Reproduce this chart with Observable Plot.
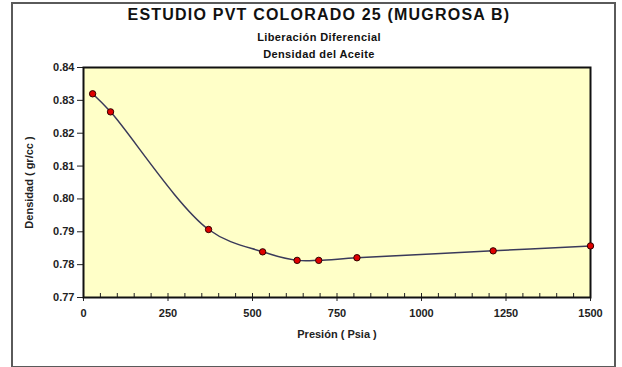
<!DOCTYPE html>
<html>
<head>
<meta charset="utf-8">
<script src="https://cdn.jsdelivr.net/npm/d3@7"></script>
<script src="https://cdn.jsdelivr.net/npm/@observablehq/plot@0.6"></script>
<style>
  html, body { margin: 0; padding: 0; background: #fff; }
  #wrap { position: relative; width: 622px; height: 367px; overflow: hidden; font-family: "Liberation Sans", Arial, sans-serif; }
  #border { position: absolute; left: 11px; top: 2px; width: 605px; height: 366px; border: 2px solid #5a5a5a; box-sizing: border-box; }
  .t { position: absolute; left: 0; width: 638px; text-align: center; font-weight: bold; color: #111; }
  #chart { position: absolute; left: 0; top: 0; }
</style>
</head>
<body>
<div id="wrap">
  <div id="border"></div>
  <div class="t" style="top:6px;font-size:16px;letter-spacing:1.2px;">ESTUDIO PVT COLORADO 25 (MUGROSA B)</div>
  <div class="t" style="top:31px;font-size:11px;letter-spacing:0.4px;">Liberación Diferencial</div>
  <div class="t" style="top:48px;font-size:11px;letter-spacing:0.4px;">Densidad del Aceite</div>
  <div id="chart"></div>
</div>
<script>
const pressure = [27, 80, 370, 530, 632, 696, 809, 1212, 1500];
const density  = [0.832, 0.8265, 0.7907, 0.7839, 0.7813, 0.7813, 0.7821, 0.7842, 0.7857];
const xTicks = [0, 250, 500, 750, 1000, 1250, 1500];
const xMinor = d3.range(0, 1501, 50);
const yTicks = [0.77, 0.78, 0.79, 0.80, 0.81, 0.82, 0.83, 0.84];

const data = pressure.map((p, i) => ({p, d: density[i]}));

const chart = Plot.plot({
  width: 622,
  height: 367,
  marginLeft: 83,
  marginRight: 32,
  marginTop: 67,
  marginBottom: 70,
  style: {fontFamily: "'Liberation Sans', Arial, sans-serif", fontWeight: "bold", fontSize: "11px", color: "#222", background: "transparent"},
  x: {domain: [0, 1500]},
  y: {domain: [0.77, 0.84]},
  marks: [
    Plot.frame({fill: "#FFFFC8", stroke: null}),
    Plot.axisX(xMinor, {tickSize: -4, tickFormat: () => "", stroke: "#222", label: null}),
    Plot.axisX(xTicks, {tickSize: 4, tickPadding: 8, tickFormat: d => String(d), stroke: "#222", fill: "#222", fontSize: 11, fontWeight: "bold", label: "Presión ( Psia )", labelAnchor: "center", labelOffset: 40, labelArrow: "none"}),
    Plot.axisY(yTicks, {tickSize: 6, tickPadding: 3, tickFormat: d => d.toFixed(2), stroke: "#222", fill: "#222", fontSize: 11, fontWeight: "bold", label: "Densidad ( gr/cc )", labelAnchor: "center", labelOffset: 58, labelArrow: "none"}),
    Plot.frame({stroke: "#111", strokeWidth: 2}),
    Plot.line(data, {x: "p", y: "d", curve: "catmull-rom", stroke: "#3a3a5a", strokeWidth: 1.5}),
    Plot.dot(data, {x: "p", y: "d", r: 3.2, fill: "#E00000", stroke: "#300000", strokeWidth: 1})
  ]
});
document.getElementById("chart").appendChild(chart);
</script>
</body>
</html>
